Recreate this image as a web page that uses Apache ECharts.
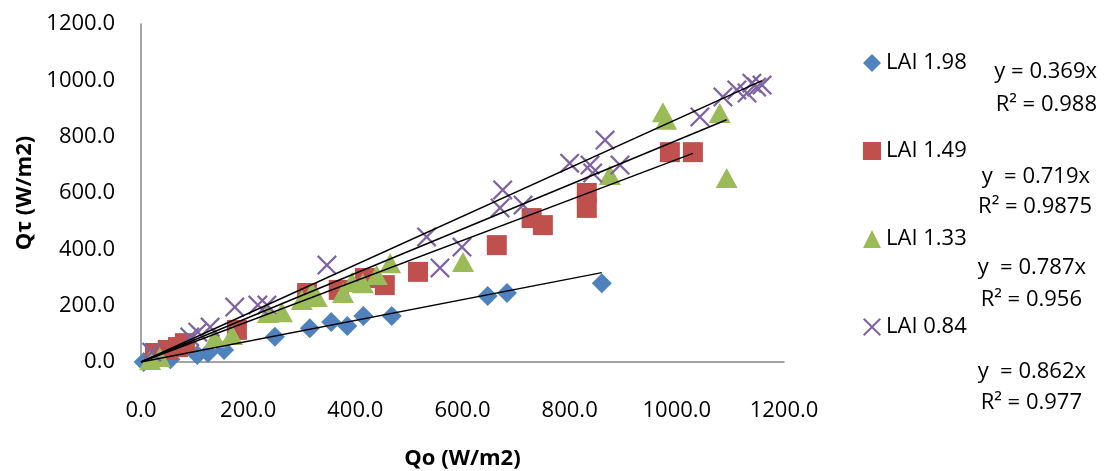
<!DOCTYPE html>
<html><head><meta charset="utf-8">
<script src="https://cdn.jsdelivr.net/npm/echarts@6/dist/echarts.min.js"></script>
<style>html,body{margin:0;padding:0;background:#fff}#c{width:1104px;height:471px}</style>
</head><body><div id="c"></div>
<script>
// ---- data ----
const seriesNames = ['LAI 1.98', 'LAI 1.49', 'LAI 1.33', 'LAI 0.84'];
const lai198 = [[5,0],[55,10],[105,25],[125,32],[155,43],[250,90],[315,120],[355,142],[385,128],[415,163],[468,163],[647,234],[683,245],[860,280]];
const lai149 = [[26,32],[50,43],[69,53],[82,67],[179,114],[310,245],[369,256],[418,298],[455,273],[517,320],[664,415],[729,511],[750,486],[832,600],[832,547],[987,745],[1030,745]];
const lai133 = [[17,7],[35,18],[138,85],[170,96],[237,174],[263,177],[300,220],[319,248],[328,231],[377,245],[394,284],[414,280],[440,309],[465,351],[601,355],[875,664],[974,887],[980,860],[1080,884],[1093,653]];
const lai084 = [[20,35],[91,89],[106,106],[129,124],[175,195],[218,202],[235,202],[347,344],[533,444],[558,334],[599,408],[675,611],[670,547],[713,557],[800,706],[838,699],[843,671],[866,788],[894,699],[1043,870],[1086,941],[1112,966],[1131,955],[1140,990],[1149,976],[1159,983]];
const slopes = [0.369, 0.719, 0.787, 0.862];
const eqLabels = ['y = 0.369x', 'y  = 0.719x', 'y  = 0.787x', 'y  = 0.862x'];
const r2Labels = ['R² = 0.988', 'R² = 0.9875', 'R² = 0.956', 'R² = 0.977'];
const xTitle = 'Qo (W/m2)';
const yTitle = 'Qτ (W/m2)';

const allData = [lai198, lai149, lai133, lai084];
const colors = ['#4F81BD', '#C0504D', '#9BBB59', '#8064A2'];
const xPath = 'path://M0,1.6L1.6,0L10,8.4L18.4,0L20,1.6L11.6,10L20,18.4L18.4,20L10,11.6L1.6,20L0,18.4L8.4,10Z';
const symbols = ['diamond', 'rect', 'triangle', xPath];
const sizes = [[20,20],[20,20],[22,20],[20,20]];
const FONT = 'Open Sans';

const chart = echarts.init(document.getElementById('c'));
const series = [];
allData.forEach((d, i) => {
  series.push({
    name: seriesNames[i], type: 'scatter', data: d,
    symbol: symbols[i], symbolSize: sizes[i],
    itemStyle: { color: colors[i], opacity: 1 },
    z: 2 + i
  });
});
allData.forEach((d, i) => {
  const maxX = Math.max(...d.map(p => p[0]));
  series.push({
    name: 'trend' + i, type: 'line', data: [[0, 0], [maxX, slopes[i] * maxX]],
    showSymbol: false, symbol: 'none', silent: true,
    lineStyle: { color: '#000', width: 1.5 }, z: 10
  });
});

const eqX = [1097, 1090, 1086, 1086];
const eqY = [72, 177, 268, 372];
const r2X = [1097, 1092, 1082, 1082];
const r2Y = [105, 207, 300, 403];
const graphic = [];
eqLabels.forEach((t, i) => {
  graphic.push({ type: 'text', right: 1104 - eqX[i], top: eqY[i] - 11,
    style: { text: t, font: '22px "' + FONT + '"', fill: '#000' } });
  graphic.push({ type: 'text', right: 1104 - r2X[i], top: r2Y[i] - 11,
    style: { text: r2Labels[i], font: '22px "' + FONT + '"', fill: '#000' } });
});

chart.setOption({
  animation: false,
  backgroundColor: '#fff',
  grid: { left: 141, right: 320, top: 24, bottom: 109, containLabel: false, outerBoundsMode: 'none' },
  legend: {
    data: seriesNames, orient: 'vertical', left: 858, top: 46,
    itemWidth: 18, itemHeight: 18, itemGap: 64,
    textStyle: { fontFamily: FONT, fontSize: 22, color: '#000', lineHeight: 24 }
  },
  xAxis: {
    type: 'value', min: 0, max: 1200, interval: 200,
    name: xTitle, nameLocation: 'middle', nameGap: 86,
    nameTextStyle: { fontFamily: FONT, fontSize: 22, fontWeight: 'bold', color: '#000' },
    axisLine: { show: true, lineStyle: { color: '#868686', width: 1.5 } },
    axisTick: { show: false }, splitLine: { show: false },
    axisLabel: { formatter: v => v.toFixed(1), fontFamily: FONT, fontSize: 22, color: '#000', margin: 38 }
  },
  yAxis: {
    type: 'value', min: 0, max: 1200, interval: 200,
    name: yTitle, nameLocation: 'middle', nameGap: 100,
    nameTextStyle: { fontFamily: FONT, fontSize: 22, fontWeight: 'bold', color: '#000' },
    axisLine: { show: true, lineStyle: { color: '#868686', width: 1.5 } },
    axisTick: { show: false }, splitLine: { show: false },
    axisLabel: { formatter: v => v.toFixed(1), fontFamily: FONT, fontSize: 22, color: '#000', margin: 26 }
  },
  graphic: graphic,
  series: series
});
</script></body></html>
